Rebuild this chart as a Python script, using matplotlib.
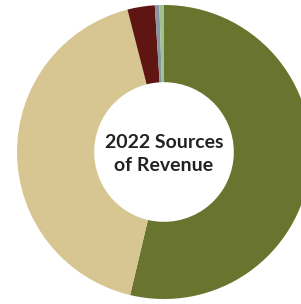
import matplotlib
matplotlib.use("Agg")
import matplotlib.pyplot as plt

labels = ["Olive", "Tan", "Dark red", "Blue-gray", "Light green"]
values = [53.7, 42.3, 3.0, 0.5, 0.5]
colors = ["#69742f", "#d8c692", "#5f1511", "#8595a3", "#9fc08f"]
title_lines = ["2022 Sources", "of Revenue"]

W, H = 301, 304
cx, cy, R = 164, 152, 147
fig = plt.figure(figsize=(W / 100, H / 100), dpi=100)
ax = fig.add_axes([0, 0, 1, 1])
ax.pie(values, colors=colors, startangle=90, counterclock=False,
       radius=1.0, wedgeprops=dict(width=0.525, linewidth=0))
ax.set_xlim(-cx / R, (W - cx) / R)
ax.set_ylim(-(H - cy) / R, cy / R)
ax.set_aspect("auto")
ax.axis("off")
ax.text(0, 0.065, title_lines[0], ha="center", va="center", fontsize=14,
        fontweight="bold", family=["Lato", "DejaVu Sans"], color="#222222")
ax.text(0, -0.09, title_lines[1], ha="center", va="center", fontsize=14,
        fontweight="bold", family=["Lato", "DejaVu Sans"], color="#222222")
fig.savefig("out.png", dpi=100)
